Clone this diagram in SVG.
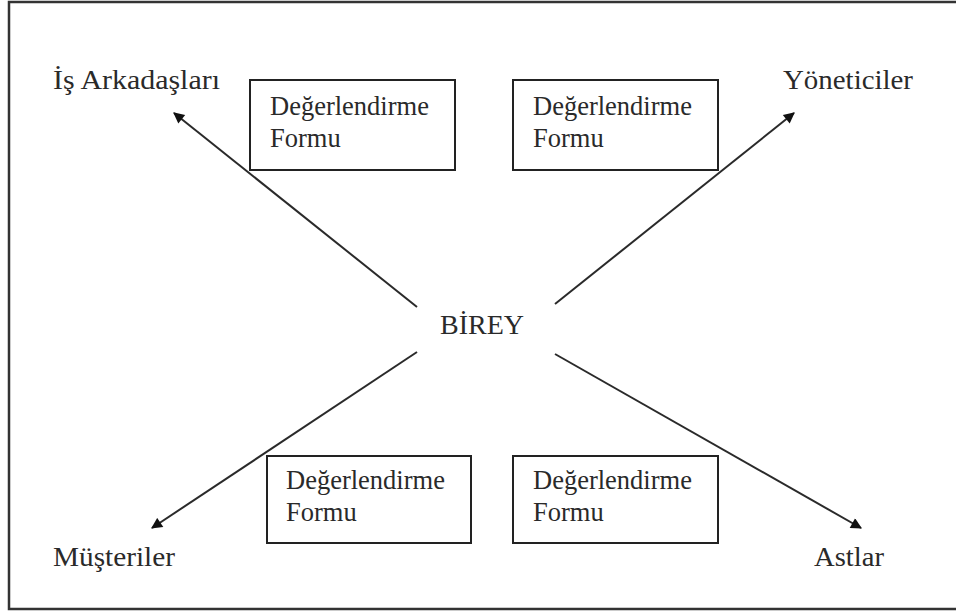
<svg xmlns="http://www.w3.org/2000/svg" width="956" height="611" viewBox="0 0 956 611">
<defs>
<style>
.t{font-family:"Liberation Serif","Times New Roman","DejaVu Serif",serif;font-size:26.5px;fill:#2a2a2a;}
.l{font-size:28px;}
.box{fill:#fff;stroke:#222;stroke-width:2;}
.ln{stroke:#2a2a2a;stroke-width:2;fill:none;}
</style>
<marker id="ah" viewBox="0 0 10 10" refX="9" refY="5" markerWidth="13" markerHeight="11" markerUnits="userSpaceOnUse" orient="auto">
<path d="M0,0 L10,5 L0,10 z" fill="#111"/>
</marker>
</defs>
<rect width="956" height="611" fill="#fff"/>
<path d="M960,2 H9 V609 H960" fill="none" stroke="#333" stroke-width="2.5"/>
<g id="connectors">
<line class="ln" x1="417" y1="307" x2="174" y2="113" marker-end="url(#ah)"/>
<line class="ln" x1="555" y1="304" x2="794" y2="113" marker-end="url(#ah)"/>
<line class="ln" x1="417" y1="352" x2="152" y2="528" marker-end="url(#ah)"/>
<line class="ln" x1="555" y1="354" x2="861" y2="528" marker-end="url(#ah)"/>
</g>
<g id="birey"><text class="t l" x="440" y="334" textLength="84" lengthAdjust="spacingAndGlyphs">BİREY</text></g>
<g id="is-arkadaslari"><text class="t l" x="53" y="89" textLength="167" lengthAdjust="spacingAndGlyphs">İş Arkadaşları</text></g>
<g id="yoneticiler"><text class="t l" x="783" y="89" textLength="130" lengthAdjust="spacingAndGlyphs">Yöneticiler</text></g>
<g id="musteriler"><text class="t l" x="53" y="566" textLength="122" lengthAdjust="spacingAndGlyphs">Müşteriler</text></g>
<g id="astlar"><text class="t l" x="814" y="566" textLength="70" lengthAdjust="spacingAndGlyphs">Astlar</text></g>
<g id="form1"><rect class="box" x="250" y="80" width="205" height="90"/><text class="t" x="270" y="115">Değerlendirme</text><text class="t" x="270" y="147">Formu</text></g>
<g id="form2"><rect class="box" x="513" y="80" width="205" height="90"/><text class="t" x="533" y="115">Değerlendirme</text><text class="t" x="533" y="147">Formu</text></g>
<g id="form3"><rect class="box" x="267" y="456" width="204" height="87"/><text class="t" x="286" y="489">Değerlendirme</text><text class="t" x="286" y="521">Formu</text></g>
<g id="form4"><rect class="box" x="513" y="456" width="205" height="87"/><text class="t" x="533" y="489">Değerlendirme</text><text class="t" x="533" y="521">Formu</text></g>
</svg>
